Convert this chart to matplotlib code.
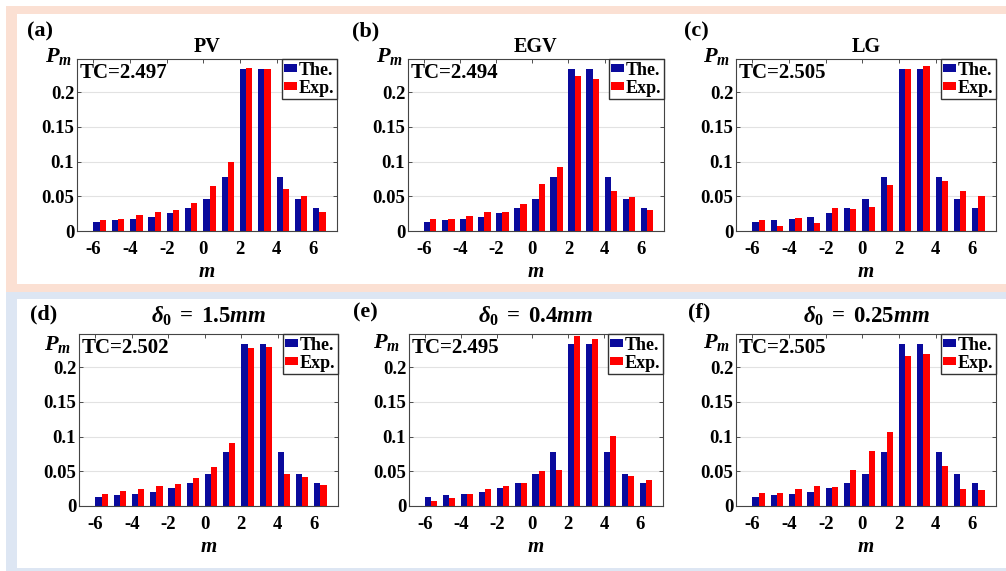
import numpy as np
import matplotlib
matplotlib.use("Agg")
from matplotlib import pyplot as plt
from matplotlib.patches import Rectangle

# valeurs
m = np.arange(-6, 7)
the_vals = [0.0135, 0.0154, 0.0173, 0.0207, 0.0255, 0.0327, 0.046, 0.0774, 0.233, 0.233, 0.0774, 0.046, 0.0327]
exp_pv = [0.0154, 0.0173, 0.0236, 0.0269, 0.0303, 0.0399, 0.0644, 0.0986, 0.235, 0.233, 0.061, 0.051, 0.0269]
exp_egv = [0.0168, 0.0178, 0.0212, 0.0269, 0.0279, 0.039, 0.0673, 0.0928, 0.223, 0.219, 0.0572, 0.0486, 0.0298]
exp_lg = [0.0154, 0.0077, 0.0192, 0.012, 0.0332, 0.0317, 0.034, 0.0668, 0.233, 0.2375, 0.0716, 0.0572, 0.05]
exp_d15 = [0.0168, 0.0212, 0.025, 0.0293, 0.0322, 0.0404, 0.0567, 0.0913, 0.227, 0.229, 0.0466, 0.0413, 0.0303]
exp_d04 = [0.0077, 0.012, 0.0173, 0.024, 0.0288, 0.0337, 0.051, 0.0524, 0.2447, 0.24, 0.1005, 0.0438, 0.037]
exp_d025 = [0.0188, 0.0192, 0.024, 0.0293, 0.0279, 0.0524, 0.0793, 0.1067, 0.2154, 0.2188, 0.0572, 0.025, 0.0231]

titles = ['PV', 'EGV', 'LG', r'$\delta_0\;=\;1.5mm$', r'$\delta_0\;=\;0.4mm$', r'$\delta_0\;=\;0.25mm$']
letters = ['(a)', '(b)', '(c)', '(d)', '(e)', '(f)']
tc_labels = ['TC=2.497', 'TC=2.494', 'TC=2.505', 'TC=2.502', 'TC=2.495', 'TC=2.505']
exp_all = [exp_pv, exp_egv, exp_lg, exp_d15, exp_d04, exp_d025]

plt.rcParams['font.family'] = 'Liberation Serif'
plt.rcParams['font.weight'] = 'bold'
plt.rcParams['axes.unicode_minus'] = False
plt.rcParams['mathtext.fontset'] = 'custom'
plt.rcParams['mathtext.rm'] = 'Liberation Serif:bold'
plt.rcParams['mathtext.bf'] = 'Liberation Serif:bold'
plt.rcParams['mathtext.it'] = 'Liberation Serif:italic:bold'

W, H = 1006, 571
fig = plt.figure(figsize=(W / 100, H / 100), dpi=100)

def fr(x0, y0, x1, y1):
    # rectangle en pixels -> fraction de figure
    return (x0 / W, 1 - y1 / H), (x1 - x0) / W, (y1 - y0) / H

# bandes de fond
for (x0, y0, x1, y1, c) in [(6, 6, 1006, 292, '#fbe0d3'), (17, 14, 1006, 284, 'white'),
                            (6, 292, 1006, 571, '#dde6f3'), (17, 299, 1006, 568, 'white')]:
    xy, w, h = fr(x0, y0, x1, y1)
    fig.add_artist(Rectangle(xy, w, h, transform=fig.transFigure, color=c, zorder=-5, lw=0))

boxes = [(77, 59, 337, 231), (408, 59, 664, 231), (736, 59, 996, 231),
         (79, 334, 338, 506), (409, 334, 663, 506), (736, 334, 996, 506)]
letter_pos = [(27, 36), (352, 36), (684, 36), (30, 319), (353, 317), (688, 317)]
pm_pos = [(45, 62), (376, 62), (703, 62), (44, 350), (373, 348), (703, 348)]
title_pad = [5, 5, 5, 8, 8, 8]

for i in range(6):
    x0, y0, x1, y1 = boxes[i]
    ax = fig.add_axes([x0 / W, 1 - y1 / H, (x1 - x0) / W, (y1 - y0) / H])
    ax.bar(m + 0.17, the_vals, width=0.34, color='#0a0a9c', label='The.')
    ax.bar(m + 0.51, exp_all[i], width=0.34, color='#ff0000', label='Exp.')
    ax.set_xlim(-6.9, 7.3)
    ax.set_ylim(0, 0.2475)
    ax.set_xticks([-6, -4, -2, 0, 2, 4, 6])
    ax.set_yticks([0, 0.05, 0.1, 0.15, 0.2])
    ax.set_yticklabels(['0', '0.05', '0.1', '0.15', '0.2'])
    ax.tick_params(direction='in', top=True, right=True, length=3, width=0.6,
                   color='#333333', labelsize=13.5)
    ax.tick_params(axis='x', pad=7)
    ax.tick_params(axis='y', pad=2)
    ax.yaxis.grid(True, color='#e2e2e2', lw=0.8)
    ax.set_axisbelow(True)
    for s in ax.spines.values():
        s.set_color('#444444')
        s.set_linewidth(0.8)
    if i < 3:
        ax.set_title(titles[i], fontsize=14.5, fontweight='bold', pad=title_pad[i])
    else:
        ax.set_title(titles[i], fontsize=16.5, pad=title_pad[i])
    ax.set_xlabel('m', fontsize=15, style='italic', fontweight='bold')
    ax.xaxis.set_label_coords(0.5, -0.236)
    ax.xaxis.label.set_verticalalignment('center')
    ax.text(3 / (x1 - x0), 1 - 4 / (y1 - y0), tc_labels[i], transform=ax.transAxes,
            ha='left', va='top', fontsize=15, fontweight='bold')
    ax.legend(loc='upper right', borderaxespad=0, fancybox=False, edgecolor='#333333',
              framealpha=1, handlelength=0.7, handleheight=0.35, handletextpad=0.1,
              borderpad=0.15, labelspacing=0.05, prop={'size': 13, 'weight': 'bold'})
    lx, ly = letter_pos[i]
    fig.text(lx / W, 1 - ly / H, letters[i], fontsize=16, fontweight='bold',
             ha='left', va='baseline')
    px, py = pm_pos[i]
    fig.text(px / W, 1 - py / H, r'$P_m$', fontsize=16, ha='left', va='baseline')

fig.savefig('out.png', dpi=100)
